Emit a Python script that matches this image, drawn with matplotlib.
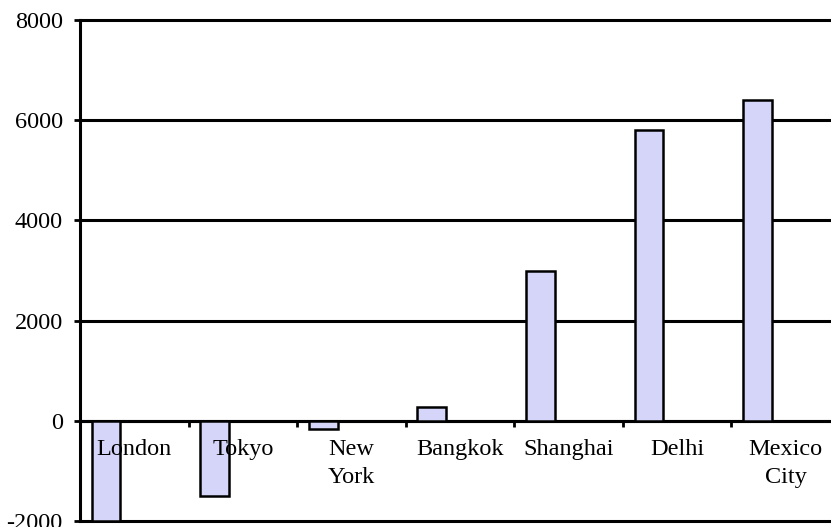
import numpy as np
import matplotlib.pyplot as plt

cities = ["London", "Tokyo", "New\nYork", "Bangkok", "Shanghai", "Delhi", "Mexico\nCity"]
change = [-2000, -1500, -160, 280, 3000, 5800, 6400]
yticks = [-2000, 0, 2000, 4000, 6000, 8000]

plt.rcParams['font.family'] = ['Liberation Serif', 'DejaVu Serif']

fig = plt.figure(figsize=(8.31, 5.27), dpi=100)
# plot area runs a little past the right edge of the figure
ax = fig.add_axes([80 / 831, 6 / 527, 760 / 831, 501 / 527])

x = np.arange(len(cities))
ax.bar(x - 0.26, change, width=0.265, color='#D5D5FA', edgecolor='black',
       linewidth=1.8, zorder=3)

ax.set_xlim(-0.5, len(cities) - 0.5)
ax.set_ylim(-2000, 8000)
ax.set_yticks(yticks)
ax.set_yticklabels([str(v) for v in yticks], fontsize=17.5)
ax.tick_params(axis='y', length=4.5, width=2, pad=8)

# category axis sits on the zero line
ax.spines['bottom'].set_position(('data', 0))
ax.spines['right'].set_visible(False)
ax.spines['top'].set_visible(False)
for s in ('bottom', 'left'):
    ax.spines[s].set_linewidth(2.2)

# ticks between categories, names written over the bars
ax.set_xticks(np.arange(len(cities) + 1) - 0.5)
ax.set_xticklabels([])
ax.tick_params(axis='x', length=4, width=2, direction='out')
for xi, name in zip(x, cities):
    ax.annotate(name, (xi, 0), xytext=(0, -13), textcoords='offset points',
                ha='center', va='top', fontsize=17.5, linespacing=1.45,
                zorder=5)

ax.yaxis.grid(True, color='black', linewidth=2.2)
ax.set_axisbelow(True)
for gl in ax.get_ygridlines():
    gl.set_clip_on(False)

fig.savefig('out.png', dpi=100)
